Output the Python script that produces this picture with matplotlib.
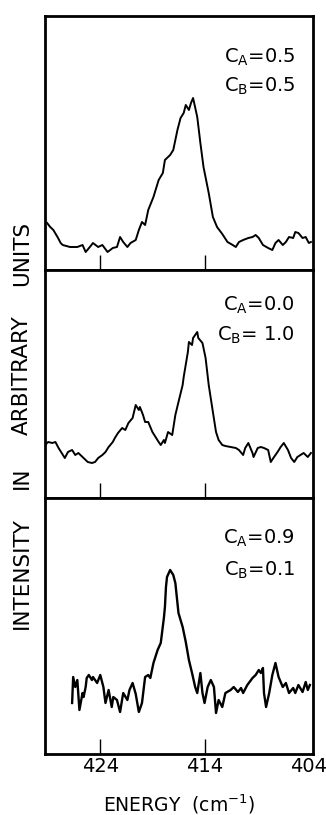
import matplotlib
matplotlib.use("Agg")
import matplotlib.pyplot as plt

plt.rcParams['font.family'] = ['DejaVu Sans']
plt.rcParams['mathtext.default'] = 'regular'

# ---- data (energy in cm^-1, intensity in arbitrary units) ----
energy_top = [429.1, 428.8, 428.5, 428.1, 427.8, 427.6, 426.9, 426.2, 425.7, 425.4,
              425.0, 424.7, 424.2, 423.8, 423.3, 422.8, 422.4, 422.1, 421.8, 421.4,
              421.1, 420.6, 420.3, 420.0, 419.7, 419.4, 418.9, 418.4, 418.0, 417.8,
              417.3, 417.0, 416.6, 416.3, 416.0, 415.8, 415.5, 415.3, 415.1, 414.7,
              414.4, 414.1, 413.6, 413.2, 412.8, 412.3, 411.8, 411.3, 411.0, 410.7,
              410.3, 409.8, 409.4, 409.1, 408.8, 408.4, 407.9, 407.5, 407.2, 406.9,
              406.5, 406.2, 405.9, 405.5, 405.3, 405.0, 404.6, 404.3, 404.0, 403.8]
intensity_top = [47, 43, 40, 33, 27, 25, 23, 23, 25, 18,
                 23, 27, 23, 25, 18, 22, 23, 33, 28, 23,
                 27, 30, 40, 48, 45, 60, 73, 90, 97, 110,
                 115, 120, 140, 152, 157, 165, 160, 167, 172, 153,
                 127, 103, 77, 53, 43, 36, 28, 25, 23, 28,
                 30, 32, 33, 35, 32, 25, 22, 20, 27, 30,
                 25, 28, 33, 32, 38, 37, 32, 33, 27, 28]

energy_mid = [429.3, 429.0, 428.6, 428.3, 428.0, 427.7, 427.4, 427.1, 426.7, 426.4,
              426.1, 425.7, 425.4, 425.2, 424.8, 424.5, 424.2, 423.8, 423.5, 423.2,
              422.8, 422.6, 422.3, 421.9, 421.6, 421.3, 420.9, 420.6, 420.3, 420.2,
              419.9, 419.7, 419.4, 419.0, 418.7, 418.4, 418.2, 417.9, 417.8, 417.5,
              417.1, 416.8, 416.5, 416.1, 416.0, 415.6, 415.5, 415.2, 415.1, 414.7,
              414.6, 414.2, 413.9, 413.6, 413.2, 412.9, 412.65, 412.3, 412.0, 411.5,
              411.0, 410.7, 410.3, 410.1, 409.8, 409.4, 409.3, 408.9, 408.6, 408.3,
              407.9, 407.65, 407.4, 407.0, 406.7, 406.4, 406.0, 405.7, 405.4, 405.1,
              404.8, 404.5, 404.1, 403.8]
intensity_mid = [53, 56, 55, 56, 50, 45, 40, 46, 48, 43,
                 45, 41, 38, 36, 35, 36, 40, 43, 46, 51,
                 56, 60, 65, 70, 68, 75, 80, 93, 88, 91,
                 83, 76, 76, 66, 61, 56, 53, 58, 55, 66,
                 63, 83, 96, 113, 121, 146, 156, 153, 160, 166,
                 160, 155, 140, 113, 86, 66, 58, 53, 52, 51,
                 50, 48, 43, 50, 55, 45, 41, 50, 51, 50,
                 48, 36, 40, 46, 51, 55, 48, 40, 36, 41,
                 43, 45, 41, 45]

energy_bot = [426.7, 426.6, 426.4, 426.2, 426.0, 425.7, 425.6, 425.4, 425.3, 425.1,
              424.8, 424.7, 424.3, 424.0, 423.7, 423.5, 423.2, 422.9, 422.75, 422.4,
              422.1, 421.8, 421.4, 421.2, 420.9, 420.6, 420.3, 420.0, 419.7, 419.4,
              419.2, 418.9, 418.5, 418.2, 417.9, 417.8, 417.7, 417.6, 417.3, 417.0,
              416.8, 416.5, 416.1, 415.8, 415.5, 415.2, 414.9, 414.7, 414.4, 414.2,
              414.0, 413.7, 413.4, 413.1, 412.9, 412.65, 412.3, 412.0, 411.5, 411.2,
              410.8, 410.5, 410.3, 409.9, 409.4, 409.1, 408.8, 408.6, 408.4, 408.3,
              408.1, 407.8, 407.5, 407.2, 406.9, 406.5, 406.2, 405.9, 405.5, 405.3,
              405.0, 404.6, 404.3, 404.1, 403.9]
intensity_bot = [51, 77, 67, 74, 44, 61, 57, 67, 76, 79,
                 74, 77, 71, 79, 67, 51, 64, 47, 57, 54,
                 42, 61, 54, 64, 71, 60, 42, 51, 77, 79,
                 76, 91, 104, 111, 136, 147, 167, 177, 184, 179,
                 171, 141, 127, 112, 94, 81, 67, 61, 81, 61,
                 51, 67, 74, 67, 41, 54, 47, 61, 64, 67,
                 62, 66, 61, 69, 76, 79, 84, 81, 86, 61,
                 47, 61, 79, 91, 77, 67, 71, 61, 66, 61,
                 69, 62, 72, 64, 69]

labels_A = ["0.5", "0.0", "0.9"]
labels_B = ["0.5", " 1.0", "0.1"]
tick_values = [424, 414, 404]
tick_labels = ["424", "414", "404"]

# ---- figure ----
W, H = 326, 815
fig = plt.figure(figsize=(W / 100, H / 100), dpi=100)

left = 45 / W
width = 268 / W
panels = [  # (top_px, bottom_px)
    (16, 270),
    (270, 498),
    (498, 754),
]
series = [(energy_top, intensity_top, 1.4),
          (energy_mid, intensity_mid, 1.4),
          (energy_bot, intensity_bot, 1.7)]
ann_offsets = [(47, 76), (41, 71), (46, 78)]

for i, ((ptop, pbot), (ex, iy, lw)) in enumerate(zip(panels, series)):
    ax = fig.add_axes([left, (H - pbot) / H, width, (pbot - ptop) / H])
    ax.plot(ex, iy, color='black', lw=lw, solid_joinstyle='round')
    ax.set_xlim(429.3, 403.6)
    ax.set_ylim(0, pbot - ptop)
    ax.set_yticks([])
    ax.set_xticks(tick_values)
    ax.tick_params(axis='x', direction='in', length=11, width=1.0, pad=2,
                   labelsize=14, top=False)
    ax.xaxis.get_major_ticks()[2].tick1line.set_visible(False)
    if i < 2:
        ax.set_xticklabels([])
    else:
        ax.set_xticklabels(tick_labels)
    for sp in ax.spines.values():
        sp.set_linewidth(2.0)
    o1, o2 = ann_offsets[i]
    ax.annotate(r"C$_{\mathrm{A}}$=" + labels_A[i], xy=(1, 1), xycoords='axes fraction',
                xytext=(-18, -o1), textcoords='offset pixels', ha='right', va='baseline',
                fontsize=14)
    ax.annotate(r"C$_{\mathrm{B}}$=" + labels_B[i], xy=(1, 1), xycoords='axes fraction',
                xytext=(-18, -o2), textcoords='offset pixels', ha='right', va='baseline',
                fontsize=14)

# y label, words spread along the left edge
ylab_words = ["UNITS", "ARBITRARY", "IN", "INTENSITY"]
ylab_centers = [253, 375, 478, 573]
for w, c in zip(ylab_words, ylab_centers):
    fig.text(22 / W, (H - c) / H, w, rotation=90, ha='center', va='center', fontsize=15.5)

fig.text(179 / W, 4 / H, r"ENERGY  (cm$^{-1}$)", ha='center', va='baseline', fontsize=13.5)

fig.savefig("out.png", dpi=100)
